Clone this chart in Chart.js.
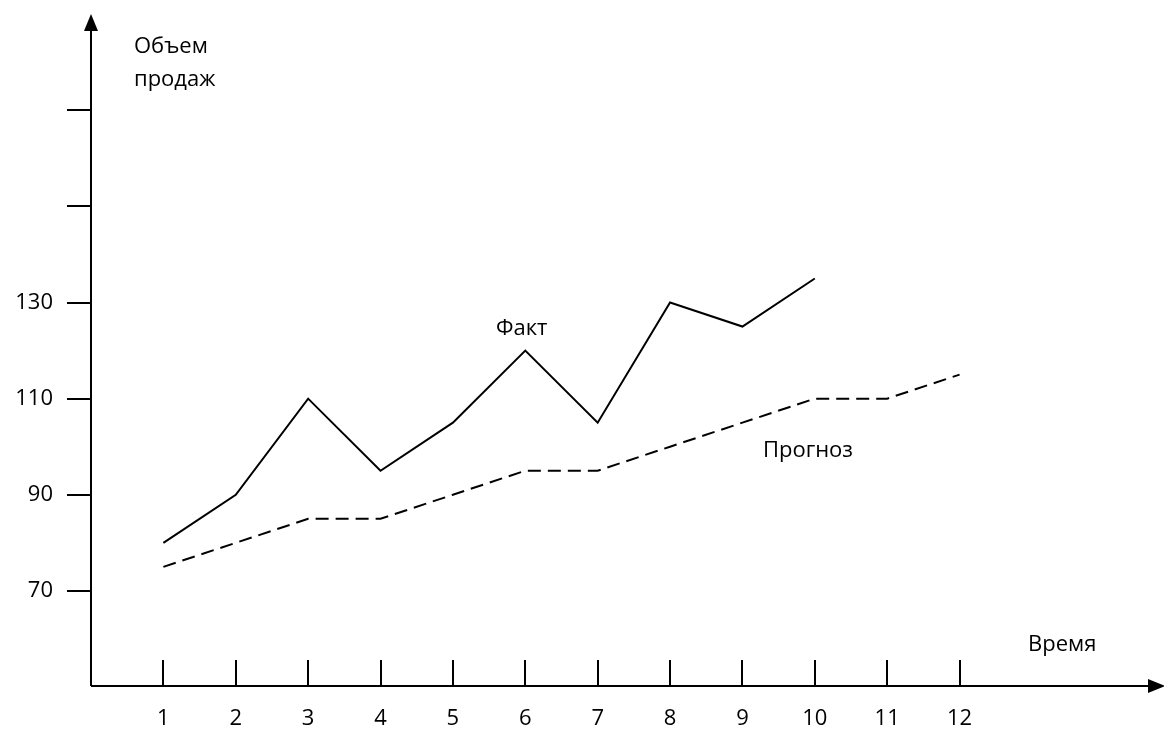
<!DOCTYPE html>
<html>
<head>
<meta charset="utf-8">
<script src="https://cdn.jsdelivr.net/npm/chart.js@4"></script>
<style>
  html, body { margin: 0; padding: 0; background: #fff; }
  #wrap { width: 1164px; height: 729px; }
</style>
</head>
<body>
<div id="wrap"><canvas id="salesChart"></canvas></div>
<script>
// periods and values
const periods = [1, 2, 3, 4, 5, 6, 7, 8, 9, 10, 11, 12];
const factValues = [80, 90, 110, 95, 105, 120, 105, 130, 125, 135];
const forecastValues = [75, 80, 85, 85, 90, 95, 95, 100, 105, 110, 110, 115];
const yTicks = [70, 90, 110, 130, 150, 170];
const yLabeled = [70, 90, 110, 130];

const FONT = '"Open Sans", sans-serif';
const FONT_SIZE = 22;

function toPoints(values) {
    return values.map((v, i) => ({ x: periods[i], y: v }));
}

// axes with arrows, inner x ticks and free text labels
const axesPlugin = {
    id: 'axesPlugin',
    afterDraw(chart) {
        const { ctx, chartArea } = chart;
        const xs = chart.scales.x;
        const left = chartArea.left, bottom = chartArea.bottom;

        ctx.save();
        ctx.strokeStyle = '#000';
        ctx.fillStyle = '#000';
        ctx.lineWidth = 2;

        // y axis
        ctx.beginPath();
        ctx.moveTo(left, bottom);
        ctx.lineTo(left, 26);
        ctx.stroke();
        ctx.beginPath();
        ctx.moveTo(left, 14);
        ctx.lineTo(left - 7, 31);
        ctx.lineTo(left + 7, 31);
        ctx.closePath();
        ctx.fill();

        // x axis
        ctx.beginPath();
        ctx.moveTo(left, bottom);
        ctx.lineTo(1152, bottom);
        ctx.stroke();
        ctx.beginPath();
        ctx.moveTo(1165, bottom);
        ctx.lineTo(1148, bottom - 7);
        ctx.lineTo(1148, bottom + 7);
        ctx.closePath();
        ctx.fill();

        // x tick marks above the axis
        periods.forEach(p => {
            const px = Math.round(xs.getPixelForValue(p));
            ctx.beginPath();
            ctx.moveTo(px, bottom);
            ctx.lineTo(px, bottom - 26);
            ctx.stroke();
        });

        ctx.font = FONT_SIZE + 'px ' + FONT;
        ctx.textBaseline = 'middle';
        ctx.textAlign = 'left';
        ctx.fillText('Объем', 134, 47);
        ctx.fillText('продаж', 134, 80);
        ctx.fillText('Время', 1028, 645);
        ctx.fillText('Факт', 496, 329);
        ctx.fillText('Прогноз', 763, 451);
        ctx.restore();
    }
};

const ctx = document.getElementById('salesChart').getContext('2d');

new Chart(ctx, {
    type: 'line',
    data: {
        datasets: [{
            label: 'Факт',
            data: toPoints(factValues),
            borderColor: '#000',
            borderWidth: 2,
            pointRadius: 0,
            tension: 0,
            fill: false
        }, {
            label: 'Прогноз',
            data: toPoints(forecastValues),
            borderColor: '#000',
            borderWidth: 2,
            borderDash: [13, 7],
            pointRadius: 0,
            tension: 0,
            fill: false
        }]
    },
    options: {
        responsive: true,
        maintainAspectRatio: false,
        animation: false,
        layout: { padding: { top: 20, right: 9, left: 0, bottom: 0 } },
        plugins: {
            legend: { display: false },
            tooltip: { enabled: false }
        },
        scales: {
            x: {
                type: 'linear',
                min: 0,
                max: 14.7,
                afterBuildTicks: scale => { scale.ticks = periods.map(v => ({ value: v })); },
                afterFit: scale => { scale.height = 43; },
                border: { display: false },
                grid: { display: false, drawTicks: false },
                ticks: {
                    color: '#000',
                    font: { family: FONT, size: FONT_SIZE },
                    padding: 20,
                    maxRotation: 0,
                    autoSkip: false
                }
            },
            y: {
                type: 'linear',
                min: 50.2,
                max: 187.3,
                afterBuildTicks: scale => { scale.ticks = yTicks.map(v => ({ value: v })); },
                afterFit: scale => { scale.width = 91; },
                border: { display: false },
                grid: {
                    drawOnChartArea: false,
                    drawTicks: true,
                    tickLength: 24,
                    color: '#000',
                    lineWidth: 2
                },
                ticks: {
                    color: '#000',
                    font: { family: FONT, size: FONT_SIZE },
                    padding: 14,
                    callback: v => yLabeled.includes(v) ? String(v) : ''
                }
            }
        }
    },
    plugins: [axesPlugin]
});
</script>
</body>
</html>
